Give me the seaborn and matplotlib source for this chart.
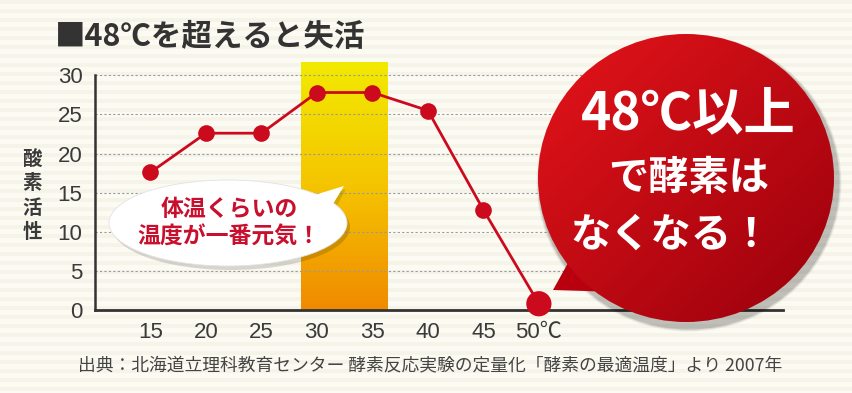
import numpy as np
import matplotlib.pyplot as plt
import seaborn as sns
from matplotlib.patches import Ellipse, Polygon
from matplotlib.colors import LinearSegmentedColormap

# 温度(℃)と酵素活性
temps = [15, 20, 25, 30, 35, 40, 45, 50]
activity = [17.6, 22.6, 22.6, 27.8, 27.8, 25.5, 12.8, 0.8]
x_labels = ['15', '20', '25', '30', '35', '40', '45', '50℃']
y_ticks = [0, 5, 10, 15, 20, 25, 30]

title = '■48℃を超えると失活'
y_label = '酸\n素\n活\n性'
bubble_text = '体温くらいの\n温度が一番元気！'
circle_lines = ['48℃以上', 'で酵素は', 'なくなる！']
source = '出典：北海道立理科教育センター 酵素反応実験の定量化「酵素の最適温度」より 2007年'

RED = '#cc0a1e'
DARK = '#333333'
NUM_FONT = ['Liberation Sans', 'Noto Sans CJK JP', 'DejaVu Sans']

sns.set_theme(style='white')
plt.rcParams['font.family'] = ['Noto Sans CJK JP', 'DejaVu Sans']

fig = plt.figure(figsize=(8.53, 3.93), dpi=100)
fig.patch.set_facecolor('#fbf9ef')

# faint paper stripes in the background
bg = fig.add_axes([0, 0, 1, 1], zorder=-5)
bg.axis('off')
rows = np.arange(393) % 9
stripes = np.where(rows < 4, 1.0, 0.0).reshape(-1, 1)
bg.imshow(stripes, aspect='auto', cmap=LinearSegmentedColormap.from_list(
    'paper', ['#fcfbf3', '#f6f4e9']), extent=(0, 1, 0, 1), interpolation='nearest')

ax = fig.add_axes([95 / 853, 1 - 310 / 393, (783 - 95) / 853, (310 - 62) / 393])
ax.set_facecolor('none')

# body temperature band (yellow -> orange)
band_cmap = LinearSegmentedColormap.from_list('band', ['#f08a00', '#f5c400', '#f2ea00'])
grad = np.linspace(0, 1, 256).reshape(-1, 1)
ax.imshow(grad, extent=(28.6, 36.4, 0, 31.7), origin='lower', aspect='auto',
          cmap=band_cmap, zorder=0)

sns.lineplot(x=temps, y=activity, color=RED, linewidth=2, marker='o',
             markersize=12, markeredgewidth=0, ax=ax, zorder=3)
sns.scatterplot(x=[temps[-1]], y=[activity[-1]], s=330, color=RED,
                edgecolor='none', ax=ax, zorder=4, clip_on=False)

ax.set_xlim(10, 72)
ax.set_ylim(0, 31.7)
ax.set_xticks(temps)
ax.set_xticklabels(x_labels)
ax.set_yticks(y_ticks)
ax.tick_params(axis='both', direction='in', length=5, width=1.2, color=DARK,
               labelsize=16, labelcolor='#3a3a3a')
ax.tick_params(axis='x', pad=9)
ax.tick_params(axis='y', pad=9)
for lab in ax.get_xticklabels() + ax.get_yticklabels():
    lab.set_family(NUM_FONT)
ax.yaxis.grid(True, linestyle=(0, (2, 2)), color='#9a9a9a', linewidth=0.8)
ax.xaxis.grid(False)
for s in ['top', 'right']:
    ax.spines[s].set_visible(False)
ax.spines['left'].set_bounds(0, 30)
ax.spines['left'].set_color(DARK)
ax.spines['left'].set_linewidth(1.8)
ax.spines['bottom'].set_color(DARK)
ax.spines['bottom'].set_linewidth(2)

fig.text(55 / 853, 1 - 37 / 393, title, fontsize=22, fontweight='bold',
         color=DARK, va='center', ha='left')
fig.text(32 / 853, 1 - 196 / 393, y_label, fontsize=14, fontweight='bold',
         color='#3a3a3a', ha='center', va='center', linespacing=1.35)
fig.text(430 / 853, 1 - 365 / 393, source, fontsize=12.8, color='#444444',
         ha='center', va='center')

# overlay in pixel coordinates for the speech bubbles
ov = fig.add_axes([0, 0, 1, 1])
ov.set_xlim(0, 853)
ov.set_ylim(393, 0)
ov.axis('off')
ov.patch.set_alpha(0)

# white bubble
ov.add_patch(Ellipse((231, 227), 238, 86, color='black', alpha=0.15, lw=0))
ov.add_patch(Polygon([(346, 189), (300, 205), (325, 228)], color='black', alpha=0.12, lw=0))
ov.add_patch(Ellipse((228, 223), 238, 86, facecolor='white', edgecolor='#e2e2e2', lw=0.6))
ov.add_patch(Polygon([(344, 186), (298, 200), (322, 222)], color='white', lw=0))
ov.text(229, 223, bubble_text, fontsize=16.5, fontweight='bold', color='#c8102e',
        ha='center', va='center', linespacing=1.25)

# red circle bubble
cx, cy, w, h = 686, 178, 296, 288
for k, a in [(9, 0.06), (7, 0.08), (5, 0.12)]:
    ov.add_patch(Ellipse((cx + 3, cy + 5), w + k, h + k, color='black', alpha=a, lw=0))
ov.add_patch(Polygon([(553, 290), (578, 245), (618, 292)], color='#b8000f', lw=0))
yy, xx = np.mgrid[0:1:200j, 0:1:200j]
t = np.clip((xx + yy) / 2, 0, 1)[..., None]
c1 = np.array([0.90, 0.08, 0.10])
c2 = np.array([0.60, 0.0, 0.05])
img = c1 * (1 - t) + c2 * t
im = ov.imshow(img, extent=(cx - w / 2, cx + w / 2, cy + h / 2, cy - h / 2),
               origin='upper', aspect='auto', zorder=2)
clip = Ellipse((cx, cy), w, h, transform=ov.transData)
im.set_clip_path(clip)
ov.set_xlim(0, 853)
ov.set_ylim(393, 0)

ov.text(688, 114, circle_lines[0], fontsize=37, fontweight='bold', color='white',
        ha='center', va='center', zorder=3)
ov.text(689, 178, circle_lines[1], fontsize=29, fontweight='bold', color='white',
        ha='center', va='center', zorder=3)
ov.text(671, 235, circle_lines[2], fontsize=29, fontweight='bold', color='white',
        ha='center', va='center', zorder=3)

fig.savefig('out.png', dpi=100, facecolor=fig.get_facecolor())
